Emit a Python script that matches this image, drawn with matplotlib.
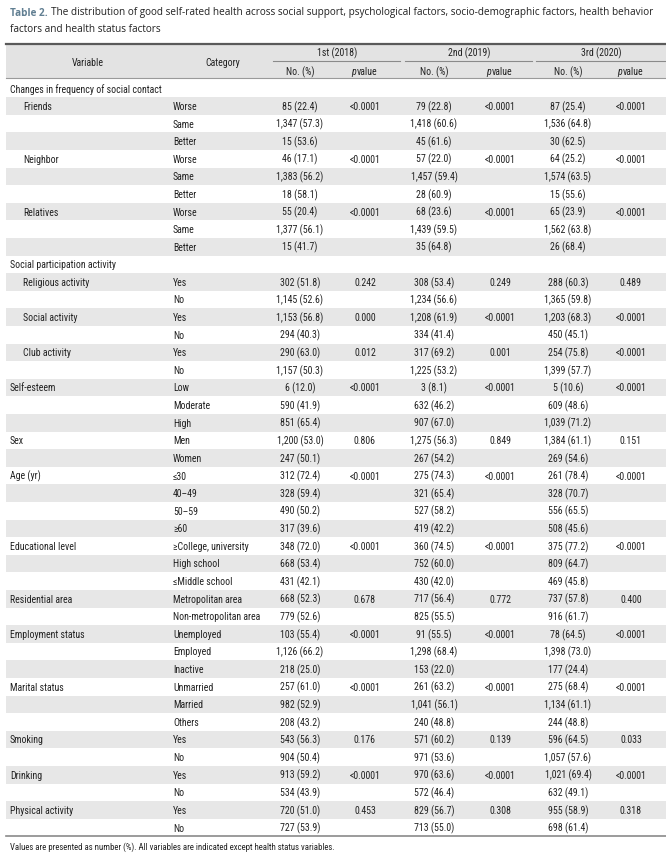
import matplotlib
matplotlib.use("Agg")
import matplotlib.pyplot as plt
from matplotlib import font_manager
from matplotlib.patches import Rectangle

# ============================================================
# Table data
# ============================================================
variables = [
    "Changes in frequency of social contact",
    "Friends", "", "",
    "Neighbor", "", "",
    "Relatives", "", "",
    "Social participation activity",
    "Religious activity", "",
    "Social activity", "",
    "Club activity", "",
    "Self-esteem", "", "",
    "Sex", "",
    "Age (yr)", "", "", "",
    "Educational level", "", "",
    "Residential area", "",
    "Employment status", "", "",
    "Marital status", "", "",
    "Smoking", "",
    "Drinking", "",
    "Physical activity", "",
]
sub_variables = ["Friends", "Neighbor", "Relatives",
                 "Religious activity", "Social activity", "Club activity"]

categories = [
    "", "Worse", "Same", "Better", "Worse", "Same", "Better", "Worse", "Same", "Better",
    "", "Yes", "No", "Yes", "No", "Yes", "No",
    "Low", "Moderate", "High",
    "Men", "Women",
    "\u226430", "40\u201349", "50\u201359", "\u226560",
    "\u2265College, university", "High school", "\u2264Middle school",
    "Metropolitan area", "Non-metropolitan area",
    "Unemployed", "Employed", "Inactive",
    "Unmarried", "Married", "Others",
    "Yes", "No", "Yes", "No", "Yes", "No",
]

n_2018 = [None, 85, 1347, 15, 46, 1383, 18, 55, 1377, 15,
          None, 302, 1145, 1153, 294, 290, 1157,
          6, 590, 851, 1200, 247, 312, 328, 490, 317,
          348, 668, 431, 668, 779, 103, 1126, 218,
          257, 982, 208, 543, 904, 913, 534, 720, 727]
pct_2018 = [None, 22.4, 57.3, 53.6, 17.1, 56.2, 58.1, 20.4, 56.1, 41.7,
            None, 51.8, 52.6, 56.8, 40.3, 63.0, 50.3,
            12.0, 41.9, 65.4, 53.0, 50.1, 72.4, 59.4, 50.2, 39.6,
            72.0, 53.4, 42.1, 52.3, 52.6, 55.4, 66.2, 25.0,
            61.0, 52.9, 43.2, 56.3, 50.4, 59.2, 43.9, 51.0, 53.9]

n_2019 = [None, 79, 1418, 45, 57, 1457, 28, 68, 1439, 35,
          None, 308, 1234, 1208, 334, 317, 1225,
          3, 632, 907, 1275, 267, 275, 321, 527, 419,
          360, 752, 430, 717, 825, 91, 1298, 153,
          261, 1041, 240, 571, 971, 970, 572, 829, 713]
pct_2019 = [None, 22.8, 60.6, 61.6, 22.0, 59.4, 60.9, 23.6, 59.5, 64.8,
            None, 53.4, 56.6, 61.9, 41.4, 69.2, 53.2,
            8.1, 46.2, 67.0, 56.3, 54.2, 74.3, 65.4, 58.2, 42.2,
            74.5, 60.0, 42.0, 56.4, 55.5, 55.5, 68.4, 22.0,
            63.2, 56.1, 48.8, 60.2, 53.6, 63.6, 46.4, 56.7, 55.0]

n_2020 = [None, 87, 1536, 30, 64, 1574, 15, 65, 1562, 26,
          None, 288, 1365, 1203, 450, 254, 1399,
          5, 609, 1039, 1384, 269, 261, 328, 556, 508,
          375, 809, 469, 737, 916, 78, 1398, 177,
          275, 1134, 244, 596, 1057, 1021, 632, 955, 698]
pct_2020 = [None, 25.4, 64.8, 62.5, 25.2, 63.5, 55.6, 23.9, 63.8, 68.4,
            None, 60.3, 59.8, 68.3, 45.1, 75.8, 57.7,
            10.6, 48.6, 71.2, 61.1, 54.6, 78.4, 70.7, 65.5, 45.6,
            77.2, 64.7, 45.8, 57.8, 61.7, 64.5, 73.0, 24.4,
            68.4, 61.1, 48.8, 64.5, 57.6, 69.4, 49.1, 58.9, 61.4]

# p values, keyed by row index (first row of each variable)
p_2018 = {1: "<0.0001", 4: "<0.0001", 7: "<0.0001", 11: "0.242", 13: "0.000",
          15: "0.012", 17: "<0.0001", 20: "0.806", 22: "<0.0001", 26: "<0.0001",
          29: "0.678", 31: "<0.0001", 34: "<0.0001", 37: "0.176", 39: "<0.0001",
          41: "0.453"}
p_2019 = {1: "<0.0001", 4: "<0.0001", 7: "<0.0001", 11: "0.249", 13: "<0.0001",
          15: "0.001", 17: "<0.0001", 20: "0.849", 22: "<0.0001", 26: "<0.0001",
          29: "0.772", 31: "<0.0001", 34: "<0.0001", 37: "0.139", 39: "<0.0001",
          41: "0.308"}
p_2020 = {1: "<0.0001", 4: "<0.0001", 7: "<0.0001", 11: "0.489", 13: "<0.0001",
          15: "<0.0001", 17: "<0.0001", 20: "0.151", 22: "<0.0001", 26: "<0.0001",
          29: "0.400", 31: "<0.0001", 34: "<0.0001", 37: "0.033", 39: "<0.0001",
          41: "0.318"}

waves = ["1st (2018)", "2nd (2019)", "3rd (2020)"]

title_label = "Table 2."
title_lines = [
    "The distribution of good self-rated health across social support, psychological factors, "
    "socio-demographic factors, health behavior",
    "factors and health status factors",
]
footnote = ("Values are presented as number (%). All variables are indicated "
            "except health status variables.")


# ============================================================
# Fonts
# ============================================================
def pick_font(candidates):
    installed = {f.name for f in font_manager.fontManager.ttflist}
    for name in candidates:
        if name in installed:
            return [name, "DejaVu Sans"]
    return ["DejaVu Sans"]


TABLE_FONT = pick_font(["Liberation Sans Narrow", "Roboto Condensed", "Arial Narrow",
                        "Roboto", "Liberation Sans"])
TITLE_FONT = pick_font(["Open Sans", "Noto Sans"])
TXT = "#222222"
BAND = "#e7e7e7"

row_top = 80.5
row_h = 17.6
left, right = 6, 666
var_x, sub_x, cat_x = 10, 23, 173
no_x = [300, 434, 568]
p_x = [365, 500, 631]
group_x = [337, 469, 601]
underline = [(273, 400), (405, 532), (536, 666)]

fig = plt.figure(figsize=(6.66, 8.54), dpi=100)
ax = fig.add_axes([0, 0, 1, 1])
ax.set_xlim(0, 666)
ax.set_ylim(854, 0)
ax.axis("off")


def width_px(txt):
    fig.canvas.draw()
    return txt.get_window_extent().width


def fit(txt, target):
    # shrink/grow a text so it spans the width it has in the printed table
    txt.set_fontsize(txt.get_fontsize() * target / width_px(txt))


# measure a reference line of the table to choose a body size
probe = ax.text(var_x, 0, variables[0], fontsize=8, family=TABLE_FONT)
fit(probe, 152)
FS = probe.get_fontsize()
probe.remove()

# ------------------------------------------------------------
# Title
# ------------------------------------------------------------
t_lab = ax.text(10, 13, title_label, fontsize=8, fontweight="bold", color="#617f92",
                family=TITLE_FONT, va="center", ha="left")
t_1 = ax.text(0, 13, title_lines[0], fontsize=8, color=TXT,
              family=TITLE_FONT, va="center", ha="left")
lab_w = width_px(t_lab)
fit(t_1, 660 - 10 - lab_w - 3)
TFS = t_1.get_fontsize()
t_lab.set_fontsize(TFS)
fig.canvas.draw()
bb = t_lab.get_window_extent().transformed(ax.transData.inverted())
t_1.set_x(bb.x1 + 3)
ax.text(10, 29, title_lines[1], fontsize=TFS, color=TXT,
        family=TITLE_FONT, va="center", ha="left")

# ------------------------------------------------------------
# Header
# ------------------------------------------------------------
ax.add_patch(Rectangle((left, 45), right - left, 34, color="#e3e3e3", lw=0, zorder=0))
ax.plot([left, right], [45, 45], color="#5a5a5a", lw=1.6)
ax.plot([left, right], [79, 79], color="#9a9a9a", lw=0.8)

ax.text(88, 63, "Variable", fontsize=FS, family=TABLE_FONT, color=TXT, ha="center", va="center")
ax.text(223, 63, "Category", fontsize=FS, family=TABLE_FONT, color=TXT, ha="center", va="center")
for k, wave in enumerate(waves):
    ax.text(group_x[k], 53, wave, fontsize=FS, family=TABLE_FONT, color=TXT,
            ha="center", va="center")
    ax.plot(underline[k], [61.5, 61.5], color="#8a8a8a", lw=0.8)
    ax.text(no_x[k], 72, "No. (%)", fontsize=FS, family=TABLE_FONT, color=TXT,
            ha="center", va="center")
    ax.text(p_x[k] - 9, 72, "p", fontsize=FS, family=TABLE_FONT, style="italic",
            color=TXT, ha="right", va="center")
    ax.text(p_x[k] - 8, 72, "value", fontsize=FS, family=TABLE_FONT, color=TXT,
            ha="left", va="center")

# ------------------------------------------------------------
# Body
# ------------------------------------------------------------
n_rows = len(variables)
centers = [row_top + (i + 0.5) * row_h for i in range(n_rows)]
band_rows = [c for i, c in enumerate(centers) if i % 2 == 1]
ax.barh(band_rows, right - left, left=left, height=row_h, color=BAND, lw=0, zorder=0)

counts = [n_2018, n_2019, n_2020]
pcts = [pct_2018, pct_2019, pct_2020]
pvals = [p_2018, p_2019, p_2020]

for i in range(n_rows):
    y = centers[i]
    var = variables[i]
    if var:
        x = sub_x if var in sub_variables else var_x
        ax.text(x, y, var, fontsize=FS, family=TABLE_FONT, color=TXT, ha="left", va="center")
    if categories[i]:
        ax.text(cat_x, y, categories[i], fontsize=FS, family=TABLE_FONT, color=TXT,
                ha="left", va="center")
    for k in range(3):
        n = counts[k][i]
        if n is not None:
            ax.text(no_x[k], y, f"{n:,} ({pcts[k][i]:.1f})", fontsize=FS,
                    family=TABLE_FONT, color=TXT, ha="center", va="center")
        if i in pvals[k]:
            ax.text(p_x[k], y, pvals[k][i], fontsize=FS, family=TABLE_FONT, color=TXT,
                    ha="center", va="center")

bottom = row_top + n_rows * row_h
ax.plot([left, right], [bottom, bottom], color="#8a8a8a", lw=1.2)

foot = ax.text(10, 847, footnote, fontsize=FS, family=TABLE_FONT, color=TXT,
               ha="left", va="center")
fit(foot, 322)

fig.savefig("out.png", dpi=100)
